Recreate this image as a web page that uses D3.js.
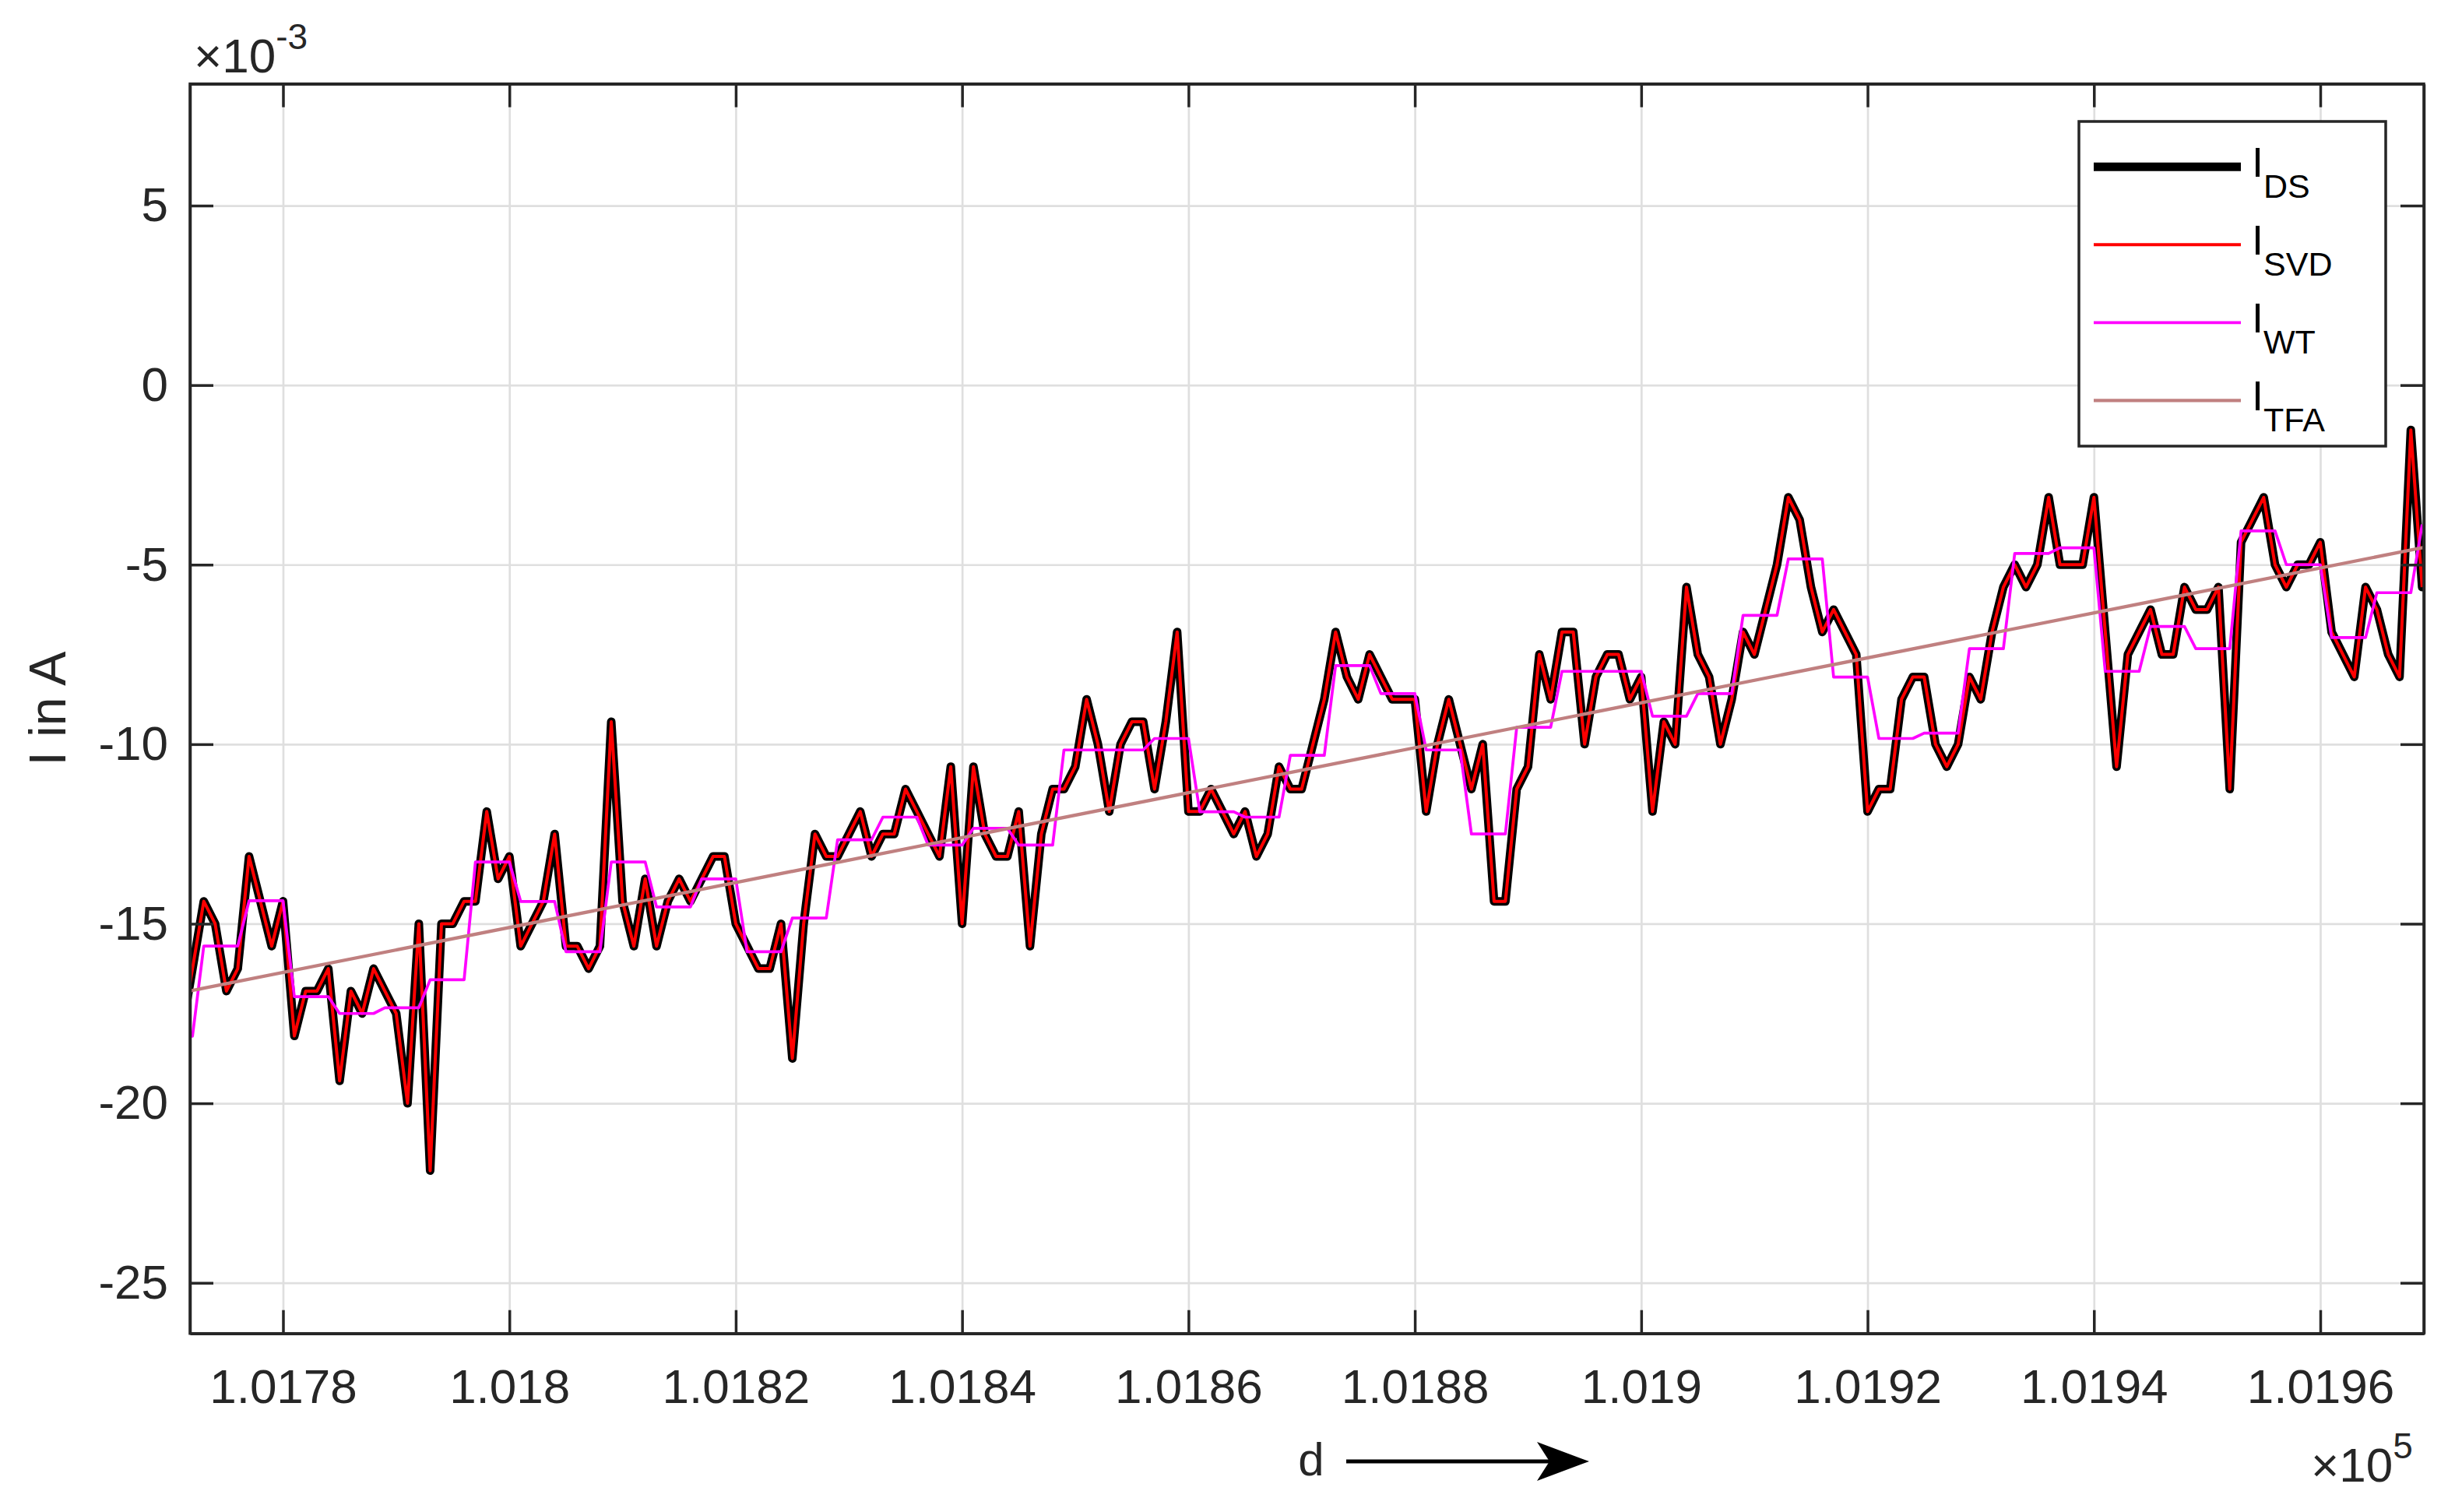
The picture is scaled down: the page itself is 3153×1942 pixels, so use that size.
<!DOCTYPE html>
<html>
<head>
<meta charset="utf-8">
<script src="https://cdn.jsdelivr.net/npm/d3@7"></script>
<style>
  html, body { margin: 0; padding: 0; background: #ffffff; }
  svg { display: block; }
  text { font-family: "Liberation Sans", Arial, Helvetica, sans-serif; }
</style>
</head>
<body>
<svg id="chart" width="3153" height="1942"></svg>
<script>
// ---------------- data (current in units of 1e-3 A) ----------------
const distance = d3.range(101771, 101970);   // sample positions d = 101771 ... 101969

const dsCurrent = [
  -18.125, -16.25, -14.375, -15.0, -16.875, -16.25, -13.125, -14.375, -15.625, -14.375,
  -18.125, -16.875, -16.875, -16.25, -19.375, -16.875, -17.5, -16.25, -16.875, -17.5,
  -20.0, -15.0, -21.875, -15.0, -15.0, -14.375, -14.375, -11.875, -13.75, -13.125,
  -15.625, -15.0, -14.375, -12.5, -15.625, -15.625, -16.25, -15.625, -9.375, -14.375,
  -15.625, -13.75, -15.625, -14.375, -13.75, -14.375, -13.75, -13.125, -13.125, -15.0,
  -15.625, -16.25, -16.25, -15.0, -18.75, -15.0, -12.5, -13.125, -13.125, -12.5,
  -11.875, -13.125, -12.5, -12.5, -11.25, -11.875, -12.5, -13.125, -10.625, -15.0,
  -10.625, -12.5, -13.125, -13.125, -11.875, -15.625, -12.5, -11.25, -11.25, -10.625,
  -8.75, -10.0, -11.875, -10.0, -9.375, -9.375, -11.25, -9.375, -6.875, -11.875,
  -11.875, -11.25, -11.875, -12.5, -11.875, -13.125, -12.5, -10.625, -11.25, -11.25,
  -10.0, -8.75, -6.875, -8.125, -8.75, -7.5, -8.125, -8.75, -8.75, -8.75,
  -11.875, -10.0, -8.75, -10.0, -11.25, -10.0, -14.375, -14.375, -11.25, -10.625,
  -7.5, -8.75, -6.875, -6.875, -10.0, -8.125, -7.5, -7.5, -8.75, -8.125,
  -11.875, -9.375, -10.0, -5.625, -7.5, -8.125, -10.0, -8.75, -6.875, -7.5,
  -6.25, -5.0, -3.125, -3.75, -5.625, -6.875, -6.25, -6.875, -7.5, -11.875,
  -11.25, -11.25, -8.75, -8.125, -8.125, -10.0, -10.625, -10.0, -8.125, -8.75,
  -6.875, -5.625, -5.0, -5.625, -5.0, -3.125, -5.0, -5.0, -5.0, -3.125,
  -6.875, -10.625, -7.5, -6.875, -6.25, -7.5, -7.5, -5.625, -6.25, -6.25,
  -5.625, -11.25, -4.375, -3.75, -3.125, -5.0, -5.625, -5.0, -5.0, -4.375,
  -6.875, -7.5, -8.125, -5.625, -6.25, -7.5, -8.125, -1.25, -5.625
];

const svdCurrent = [
  -18.125, -16.25, -14.375, -15.0, -16.875, -16.25, -13.125, -14.375, -15.625, -14.375,
  -18.125, -16.875, -16.875, -16.25, -19.375, -16.875, -17.5, -16.25, -16.875, -17.5,
  -20.0, -15.0, -21.875, -15.0, -15.0, -14.375, -14.375, -11.875, -13.75, -13.125,
  -15.625, -15.0, -14.375, -12.5, -15.625, -15.625, -16.25, -15.625, -9.375, -14.375,
  -15.625, -13.75, -15.625, -14.375, -13.75, -14.375, -13.75, -13.125, -13.125, -15.0,
  -15.625, -16.25, -16.25, -15.0, -18.75, -15.0, -12.5, -13.125, -13.125, -12.5,
  -11.875, -13.125, -12.5, -12.5, -11.25, -11.875, -12.5, -13.125, -10.625, -15.0,
  -10.625, -12.5, -13.125, -13.125, -11.875, -15.625, -12.5, -11.25, -11.25, -10.625,
  -8.75, -10.0, -11.875, -10.0, -9.375, -9.375, -11.25, -9.375, -6.875, -11.875,
  -11.875, -11.25, -11.875, -12.5, -11.875, -13.125, -12.5, -10.625, -11.25, -11.25,
  -10.0, -8.75, -6.875, -8.125, -8.75, -7.5, -8.125, -8.75, -8.75, -8.75,
  -11.875, -10.0, -8.75, -10.0, -11.25, -10.0, -14.375, -14.375, -11.25, -10.625,
  -7.5, -8.75, -6.875, -6.875, -10.0, -8.125, -7.5, -7.5, -8.75, -8.125,
  -11.875, -9.375, -10.0, -5.625, -7.5, -8.125, -10.0, -8.75, -6.875, -7.5,
  -6.25, -5.0, -3.125, -3.75, -5.625, -6.875, -6.25, -6.875, -7.5, -11.875,
  -11.25, -11.25, -8.75, -8.125, -8.125, -10.0, -10.625, -10.0, -8.125, -8.75,
  -6.875, -5.625, -5.0, -5.625, -5.0, -3.125, -5.0, -5.0, -5.0, -3.125,
  -6.875, -10.625, -7.5, -6.875, -6.25, -7.5, -7.5, -5.625, -6.25, -6.25,
  -5.625, -11.25, -4.375, -3.75, -3.125, -5.0, -5.625, -5.0, -5.0, -4.375,
  -6.875, -7.5, -8.125, -5.625, -6.25, -7.5, -8.125, -1.25, -5.625
];

const wtCurrent = [
  -18.13, -18.13,
  -15.62, -15.62, -15.62, -15.62,
  -14.36, -14.36, -14.36, -14.36,
  -17.03, -17.03, -17.03, -17.03,
  -17.5, -17.5, -17.5, -17.5,
  -17.34, -17.34, -17.34, -17.34,
  -16.56, -16.56, -16.56, -16.56,
  -13.28, -13.28, -13.28, -13.28,
  -14.38, -14.38, -14.38, -14.38,
  -15.78, -15.78, -15.78, -15.78,
  -13.28, -13.28, -13.28, -13.28,
  -14.53, -14.53, -14.53, -14.53,
  -13.75, -13.75, -13.75, -13.75,
  -15.78, -15.78, -15.78, -15.78,
  -14.84, -14.84, -14.84, -14.84,
  -12.66, -12.66, -12.66, -12.66,
  -12.03, -12.03, -12.03, -12.03,
  -12.81, -12.81, -12.81, -12.81,
  -12.34, -12.34, -12.34, -12.34,
  -12.81, -12.81, -12.81, -12.81,
  -10.16, -10.16, -10.16, -10.16,
  -10.16, -10.16, -10.16, -10.16,
  -9.84, -9.84, -9.84, -9.84,
  -11.88, -11.88, -11.88, -11.88,
  -12.03, -12.03, -12.03, -12.03,
  -10.31, -10.31, -10.31, -10.31,
  -7.81, -7.81, -7.81, -7.81,
  -8.59, -8.59, -8.59, -8.59,
  -10.16, -10.16, -10.16, -10.16,
  -12.5, -12.5, -12.5, -12.5,
  -9.53, -9.53, -9.53, -9.53,
  -7.97, -7.97, -7.97, -7.97,
  -7.97, -7.97, -7.97, -7.97,
  -9.22, -9.22, -9.22, -9.22,
  -8.59, -8.59, -8.59, -8.59,
  -6.41, -6.41, -6.41, -6.41,
  -4.84, -4.84, -4.84, -4.84,
  -8.13, -8.13, -8.13, -8.13,
  -9.84, -9.84, -9.84, -9.84,
  -9.69, -9.69, -9.69, -9.69,
  -7.34, -7.34, -7.34, -7.34,
  -4.69, -4.69, -4.69, -4.69,
  -4.53, -4.53, -4.53, -4.53,
  -7.97, -7.97, -7.97, -7.97,
  -6.72, -6.72, -6.72, -6.72,
  -7.34, -7.34, -7.34, -7.34,
  -4.06, -4.06, -4.06, -4.06,
  -5.0, -5.0, -5.0, -5.0,
  -7.03, -7.03, -7.03, -7.03,
  -5.78, -5.78, -5.78, -5.78,
  -3.88
];

const tfaDistance = [101771.78, 101969.15];
const tfaCurrent  = [-16.87, -4.52];

const xDomain = [101771.78, 101969.15];
const yDomain = [-26.41, 8.39];
const xTickValues = [101780, 101800, 101820, 101840, 101860, 101880, 101900, 101920, 101940, 101960];
const yTickValues = [-25, -20, -15, -10, -5, 0, 5];

const seriesNames = ["DS", "SVD", "WT", "TFA"];
const seriesColors = ["#000000", "#ff0000", "#ff00ff", "#c08080"];

// ---------------- layout ----------------
const M = { left: 244, right: 3113, top: 107.7, bottom: 1712.7 };
const AX = "#262626";
const svg = d3.select("#chart");

const x = d3.scaleLinear().domain(xDomain).range([M.left, M.right]);
const y = d3.scaleLinear().domain(yDomain).range([M.bottom, M.top]);

svg.append("rect").attr("x", 0).attr("y", 0).attr("width", 3153).attr("height", 1942).attr("fill", "#fff");

// grid
svg.append("g")
  .attr("transform", `translate(0,${M.bottom})`)
  .call(d3.axisBottom(x).tickValues(xTickValues).tickSize(-(M.bottom - M.top)).tickFormat(""))
  .call(g => { g.select(".domain").remove(); g.selectAll("line").attr("stroke", "#dfdfdf").attr("stroke-width", 2.7); });
svg.append("g")
  .attr("transform", `translate(${M.left},0)`)
  .call(d3.axisLeft(y).tickValues(yTickValues).tickSize(-(M.right - M.left)).tickFormat(""))
  .call(g => { g.select(".domain").remove(); g.selectAll("line").attr("stroke", "#dfdfdf").attr("stroke-width", 2.7); });

// clip
svg.append("clipPath").attr("id", "plotclip")
  .append("rect").attr("x", M.left).attr("y", M.top)
  .attr("width", M.right - M.left).attr("height", M.bottom - M.top);

const plot = svg.append("g").attr("clip-path", "url(#plotclip)");

const line = d3.line().x(d => x(d[0])).y(d => y(d[1]));

const dsPts  = distance.map((d, i) => [d, dsCurrent[i]]);
const svdPts = distance.map((d, i) => [d, svdCurrent[i]]);
const wtPts  = distance.map((d, i) => [d, wtCurrent[i]]);
const tfaPts = tfaDistance.map((d, i) => [d, tfaCurrent[i]]);

plot.append("path").datum(dsPts).attr("d", line)
  .attr("fill", "none").attr("stroke", seriesColors[0]).attr("stroke-width", 11)
  .attr("stroke-linejoin", "round").attr("stroke-linecap", "round");
plot.append("path").datum(svdPts).attr("d", line)
  .attr("fill", "none").attr("stroke", seriesColors[1]).attr("stroke-width", 4)
  .attr("stroke-linejoin", "round");
plot.append("path").datum(wtPts).attr("d", line)
  .attr("fill", "none").attr("stroke", seriesColors[2]).attr("stroke-width", 3.7)
  .attr("stroke-linejoin", "round");
plot.append("path").datum(tfaPts).attr("d", line)
  .attr("fill", "none").attr("stroke", seriesColors[3]).attr("stroke-width", 4.3);

// axes
const fmtX = v => String(+(v / 1e5).toFixed(4));
function styleAxis(g) {
  g.select(".domain").attr("stroke", AX).attr("stroke-width", 3.5);
  g.selectAll(".tick line").attr("stroke", AX).attr("stroke-width", 3.5);
  g.selectAll("text").attr("fill", AX).attr("font-size", 62)
    .attr("font-family", '"Liberation Sans", Arial, Helvetica, sans-serif');
  g.attr("font-family", null).attr("font-size", null);
}
svg.append("g").attr("transform", `translate(0,${M.bottom})`)
  .call(d3.axisBottom(x).tickValues(xTickValues).tickSizeInner(-30).tickSizeOuter(0).tickPadding(45).tickFormat(fmtX))
  .call(styleAxis);
svg.append("g").attr("transform", `translate(0,${M.top})`)
  .call(d3.axisTop(x).tickValues(xTickValues).tickSizeInner(-30).tickSizeOuter(0).tickFormat(""))
  .call(styleAxis);
svg.append("g").attr("transform", `translate(${M.left},0)`)
  .call(d3.axisLeft(y).tickValues(yTickValues).tickSizeInner(-30).tickSizeOuter(0).tickPadding(28).tickFormat(d => String(d)))
  .call(styleAxis);
svg.append("g").attr("transform", `translate(${M.right},0)`)
  .call(d3.axisRight(y).tickValues(yTickValues).tickSizeInner(-30).tickSizeOuter(0).tickFormat(""))
  .call(styleAxis);
svg.append("rect").attr("x", M.left).attr("y", M.top)
  .attr("width", M.right - M.left).attr("height", M.bottom - M.top)
  .attr("fill", "none").attr("stroke", AX).attr("stroke-width", 3.5);

// exponent labels
const ey = svg.append("text").attr("x", 249).attr("y", 93).attr("font-size", 62).attr("fill", AX);
ey.append("tspan").text("×10");
ey.append("tspan").attr("font-size", 46).attr("dy", -30).text("-3");

const ex = svg.append("text").attr("x", 2968).attr("y", 1903).attr("font-size", 62).attr("fill", AX);
ex.append("tspan").text("×10");
ex.append("tspan").attr("font-size", 46).attr("dy", -30).text("5");

// axis labels
svg.append("text")
  .attr("transform", `translate(84,${(M.top + M.bottom) / 2}) rotate(-90)`)
  .attr("text-anchor", "middle").attr("font-size", 66).attr("fill", AX)
  .text("I in A");

svg.append("text").attr("x", 1684).attr("y", 1895)
  .attr("text-anchor", "middle").attr("font-size", 60).attr("fill", AX)
  .text("d");
svg.append("line").attr("x1", 1729).attr("x2", 1990).attr("y1", 1877).attr("y2", 1877)
  .attr("stroke", "#000").attr("stroke-width", 5);
svg.append("path").attr("d", "M1974,1852 L2041,1877 L1974,1902 L1990,1877 Z").attr("fill", "#000");

// legend
const L = { x: 2670, y: 156, w: 394, h: 417 };
svg.append("rect").attr("x", L.x).attr("y", L.y).attr("width", L.w).attr("height", L.h)
  .attr("fill", "#fff").attr("stroke", AX).attr("stroke-width", 3.5);
const legendWidths = [11, 4, 3.7, 4.3];
seriesNames.forEach((name, i) => {
  const ly = 214.3 + i * 100;
  svg.append("line").attr("x1", 2689).attr("x2", 2878).attr("y1", ly).attr("y2", ly)
    .attr("stroke", seriesColors[i]).attr("stroke-width", legendWidths[i]);
  const t = svg.append("text").attr("x", 2892).attr("y", ly + 13).attr("font-size", 54).attr("fill", "#000");
  t.append("tspan").text("I");
  t.append("tspan").attr("font-size", 43).attr("dy", 27).text(name);
});
</script>
</body>
</html>
